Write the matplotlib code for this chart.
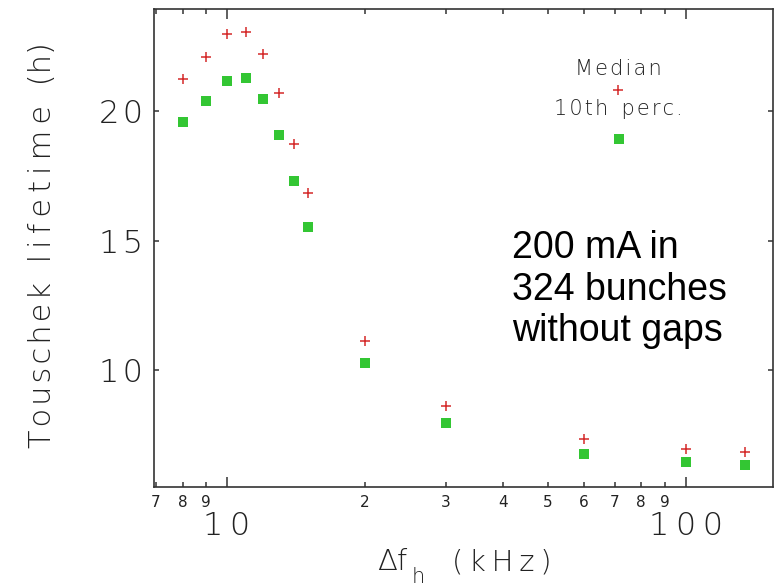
import matplotlib
matplotlib.use("Agg")
import matplotlib.pyplot as plt
from matplotlib.ticker import FixedLocator

plt.rcParams['font.family'] = ['DejaVu Sans']
plt.rcParams['mathtext.fontset'] = 'dejavusans'

# Harmonic-cavity detuning (kHz)
detuning_khz = [8, 9, 10, 11, 12, 13, 14, 15, 20, 30, 60, 100, 135]
# Touschek lifetime (h)
median_lifetime = [21.24, 22.10, 22.97, 23.08, 22.20, 20.71, 18.75, 16.85,
                   11.15, 8.62, 7.34, 6.96, 6.86]
p10_lifetime = [19.58, 20.40, 21.17, 21.27, 20.47, 19.08, 17.31, 15.53,
                10.30, 7.97, 6.77, 6.45, 6.34]

y_ticks = [10, 15, 20]
y_ticklabels = ["10", "15", "20"]
x_major = [10, 100]
x_major_labels = ["10", "100"]
x_minor = [7, 8, 9, 20, 30, 40, 50, 60, 70, 80, 90]
x_minor_labels = ["7", "8", "9", "2", "3", "4", "5", "6", "7", "8", "9"]

RED = "#d42a2a"
GREEN = "#33c633"
AX = "#333333"
TXT = "#222222"
W, H = 779, 586


def spaced(s, k=1):
    """Widen the letter spacing with hair spaces."""
    return ("\u200a" * k).join(s)


fig = plt.figure(figsize=(W / 100, H / 100), dpi=100)
ax = fig.add_axes([154 / W, 1 - 487 / H, (773 - 154) / W, (487 - 9) / H])

ax.plot(detuning_khz, median_lifetime, ls="none", marker="+", ms=7.5,
        mew=1.1, color=RED)
ax.plot(detuning_khz, p10_lifetime, ls="none", marker="s", ms=7.6,
        mew=0, color=GREEN)

ax.set_xscale("log")
ax.set_xlim(6.93, 155)
ax.set_ylim(5.5, 23.95)

for s in ax.spines.values():
    s.set_color(AX)
    s.set_linewidth(1.2)

ax.xaxis.set_major_locator(FixedLocator(x_major))
ax.xaxis.set_minor_locator(FixedLocator(x_minor))
ax.set_xticklabels([spaced(t, 2) for t in x_major_labels])
ax.set_xticklabels(x_minor_labels, minor=True)
ax.set_yticks(y_ticks)
ax.set_yticklabels([spaced(t, 1) for t in y_ticklabels])

ax.tick_params(axis="x", which="major", direction="in", length=7.5, width=1.1,
               color=AX, top=True, pad=17.5, labelsize=23, labelcolor=TXT)
ax.tick_params(axis="x", which="minor", direction="in", length=3.8, width=1.1,
               color=AX, top=True, pad=5.5, labelsize=11, labelcolor=TXT)
ax.tick_params(axis="y", which="major", direction="in", length=3.6, width=1.1,
               color=AX, right=True, pad=8, labelsize=23, labelcolor=TXT)
ax.tick_params(axis="y", which="minor", left=False, right=False)
for lab in ax.get_xticklabels() + ax.get_yticklabels():
    lab.set_fontweight("light")

# Key: text with its marker sample below
ax.text(0.7496, 0.862, spaced("Median", 1), transform=ax.transAxes,
        ha="center", va="baseline", fontsize=15, color=TXT,
        fontweight="light")
ax.plot([0.7496], [0.8305], transform=ax.transAxes, ls="none", marker="+",
        ms=7.5, mew=1.1, color=RED, clip_on=False)
ax.text(0.7506, 0.778, spaced("10th", 1) + "  " + spaced("perc.", 1),
        transform=ax.transAxes, ha="center", va="baseline", fontsize=15,
        color=TXT, fontweight="light")
ax.plot([0.7506], [0.728], transform=ax.transAxes, ls="none", marker="s",
        ms=7.6, mew=0, color=GREEN, clip_on=False)

# Beam condition note
note_lines = ["200 mA in", "324 bunches", "without gaps"]
for i, line in enumerate(note_lines):
    fig.text(512 / W, 1 - (258 + 41.5 * i) / H, line, ha="left",
             va="baseline", fontsize=27, family="Liberation Sans",
             color="black")

# x-axis title built from pieces: Delta f, subscript h, unit
fig.text(377 / W, 1 - 570 / H, "\u0394f", ha="left",
         va="baseline", fontsize=21, color=TXT, fontweight="light")
fig.text(412 / W, 1 - 583 / H, "h", ha="left", va="baseline", fontsize=15,
         color=TXT, fontweight="light")
fig.text(452 / W, 1 - 570 / H, spaced("(kHz)", 2), ha="left",
         va="baseline", fontsize=21, color=TXT, fontweight="light")

fig.text(43 / W, 1 - 245 / H,
         spaced("Touschek", 1) + "  " + spaced("lifetime", 2) + "  "
         + spaced("(h)", 0),
         rotation=90, ha="center", va="center", fontsize=22, color=TXT,
         fontweight="light")

fig.savefig("out.png", dpi=100, facecolor="white")
